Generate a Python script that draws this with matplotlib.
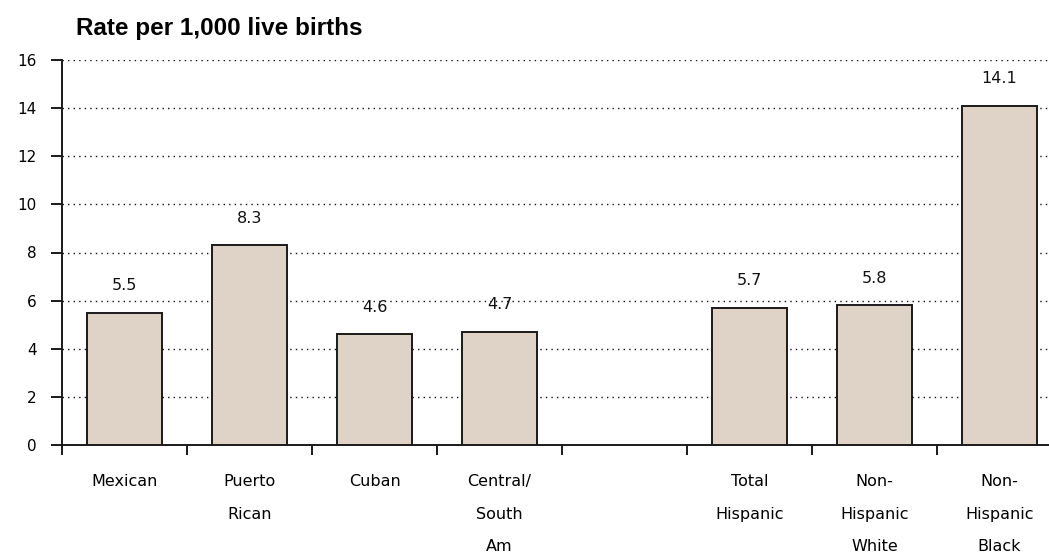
import matplotlib
matplotlib.use("Agg")
import matplotlib.pyplot as plt

# Infant mortality rate by Hispanic origin and race
categories = ["Mexican", "Puerto\nRican", "Cuban", "Central/\nSouth\nAm", "",
              "Total\nHispanic", "Non-\nHispanic\nWhite", "Non-\nHispanic\nBlack"]
rates = [5.5, 8.3, 4.6, 4.7, None, 5.7, 5.8, 14.1]
y_ticks = [0, 2, 4, 6, 8, 10, 12, 14, 16]
title = "Rate per 1,000 live births"

bar_color = "#DFD3C7"
plt.rcParams["font.family"] = ["DejaVu Sans"]

fig = plt.figure(figsize=(10.49, 5.55), dpi=100)
ax = fig.add_axes([62 / 1049, 110 / 555, 1000 / 1049, 385 / 555])

positions = [i for i, v in enumerate(rates) if v is not None]
values = [v for v in rates if v is not None]
ax.bar(positions, values, width=0.6, color=bar_color,
       edgecolor="#1a1a1a", linewidth=1.4, zorder=3)

for x, v in zip(positions, values):
    ax.annotate(f"{v:.1f}", (x, v), xytext=(0, 14), textcoords="offset points",
                ha="center", va="bottom", fontsize=11.5, color="#111111")

ax.set_xlim(-0.5, len(categories) - 0.5)
ax.set_ylim(0, 16)
ax.set_yticks(y_ticks)
ax.set_yticklabels([str(t) for t in y_ticks], fontsize=11)

# category labels sit between the boundary ticks
ax.set_xticks([i + 0.5 for i in range(-1, len(categories) - 1)])
ax.set_xticklabels([])
ax.set_xticks(range(len(categories)), minor=True)
ax.set_xticklabels(categories, minor=True, fontsize=11.5, linespacing=2.45, va="top")
ax.tick_params(axis="x", which="major", direction="out", length=7, width=1.4, color="#1a1a1a")
ax.tick_params(axis="x", which="minor", length=0, pad=21)
ax.tick_params(axis="y", direction="out", length=8, width=1.4, color="#1a1a1a", pad=10)

for y in y_ticks[1:]:
    ax.axhline(y, color="#111111", linewidth=1.0, linestyle=(0, (1, 3)), zorder=1)

for side in ("top", "right"):
    ax.spines[side].set_visible(False)
for side in ("left", "bottom"):
    ax.spines[side].set_linewidth(1.4)
    ax.spines[side].set_color("#1a1a1a")

fig.text(76 / 1049, 1 - 28 / 555, title, fontsize=17.5, fontweight="bold",
         family=["Liberation Sans"], ha="left", va="center")

fig.savefig("out.png", dpi=100)
